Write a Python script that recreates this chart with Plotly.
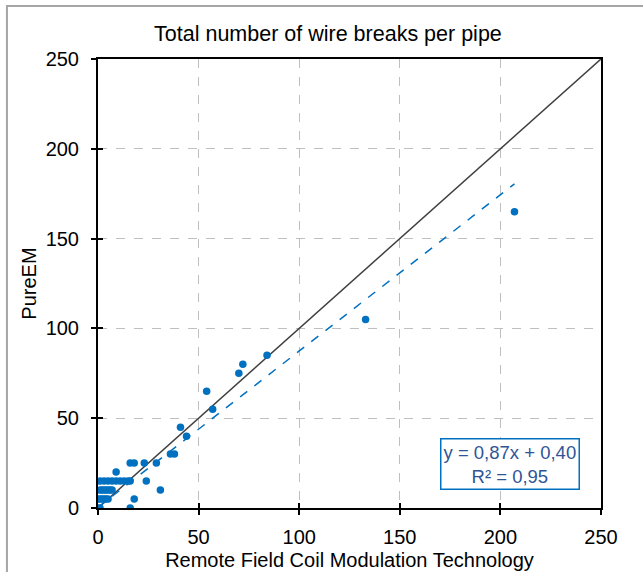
import plotly.graph_objects as go

# Data: Remote Field Coil Modulation Technology (x) vs PureEM (y)
rfcmt = [207, 133, 84, 72, 70, 57, 54, 44, 41, 36, 38, 29, 23, 16, 18, 9, 24, 31, 18, 16, 0, 1,
         1, 3, 5, 7, 9, 11, 13, 15, 16,
         1, 2, 3, 4, 5, 6, 7,
         0, 1, 2, 3, 4, 5]
pureem = [165, 105, 85, 80, 75, 55, 65, 40, 45, 30, 30, 25, 25, 25, 25, 20, 15, 10, 5, 0, 0, 0,
          15, 15, 15, 15, 15, 15, 15, 15, 15,
          10, 10, 10, 10, 10, 10, 10,
          5, 5, 5, 5, 5, 5]

axis_range = [0, 250]
tick_vals = [0, 50, 100, 150, 200, 250]
slope = 0.87
intercept = 0.40
eq_text = "y = 0,87x + 0,40<br>R² = 0,95"

blue = "#0070C0"
font_family = "Liberation Sans, Arial, sans-serif"

trend_x = [min(rfcmt), max(rfcmt)]
trend_y = [slope * v + intercept for v in trend_x]

fig = go.Figure()
fig.add_trace(go.Scatter(x=axis_range, y=axis_range, mode="lines",
                         line=dict(color="#404040", width=1.5), showlegend=False, hoverinfo="skip"))
fig.add_trace(go.Scatter(x=trend_x, y=trend_y, mode="lines",
                         line=dict(color=blue, width=1.5, dash="dash"), showlegend=False))
fig.add_trace(go.Scatter(x=rfcmt, y=pureem, mode="markers",
                         marker=dict(color=blue, size=7.5), showlegend=False))

axis_common = dict(range=axis_range, tickvals=tick_vals, showline=True, linecolor="black",
                   linewidth=2, mirror=True, ticks="outside", ticklen=5, tickwidth=1.5,
                   tickcolor="black", showgrid=True, gridcolor="#BFBFBF", griddash="dash",
                   gridwidth=1, zeroline=False,
                   tickfont=dict(size=20, color="#000000", family=font_family))

fig.update_layout(
    width=643, height=572,
    margin=dict(l=98, r=42, t=59, b=64),
    paper_bgcolor="white", plot_bgcolor="white",
    font=dict(family=font_family, color="black"),
    title=dict(text="Total number of wire breaks per pipe", x=0.51, xanchor="center",
               y=0.942, yanchor="middle", font=dict(size=21.5, color="black")),
    xaxis=dict(**axis_common, ticklabelstandoff=5, automargin=False,
               title=dict(text="Remote Field Coil Modulation Technology",
                          font=dict(size=20), standoff=6)),
    yaxis=dict(**axis_common, ticklabelstandoff=8, automargin=True,
               title=dict(text="PureEM", font=dict(size=20), standoff=4)),
    xaxis2=dict(range=axis_range, tickvals=tick_vals, overlaying="x", ticks="inside", ticklen=5,
                tickwidth=1.5, tickcolor="black", showticklabels=False, showgrid=False,
                showline=False, zeroline=False),
    yaxis2=dict(range=axis_range, tickvals=tick_vals, overlaying="y", ticks="inside", ticklen=5,
                tickwidth=1.5, tickcolor="black", showticklabels=False, showgrid=False,
                showline=False, zeroline=False),
    shapes=[dict(type="rect", xref="paper", yref="paper", x0=-0.181, x1=1.2, y0=-0.3, y1=1.118,
                 line=dict(color="#A6A6A6", width=2), layer="below")],
    annotations=[dict(text=eq_text, x=205, y=24.5, xref="x", yref="y", showarrow=False,
                      font=dict(size=18.5, color="#2F5597"), bordercolor=blue, borderwidth=1.5,
                      borderpad=2, bgcolor="white", align="center")],
)
fig.add_trace(go.Scatter(x=[None], y=[None], xaxis="x2", yaxis="y2", showlegend=False))

fig.write_html("out.html")
